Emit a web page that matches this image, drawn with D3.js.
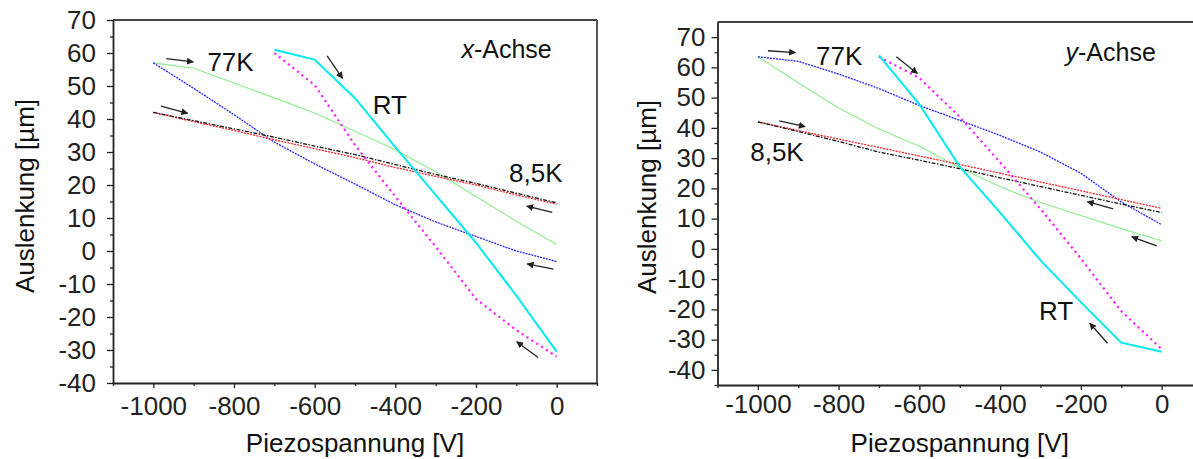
<!DOCTYPE html>
<html>
<head>
<meta charset="utf-8">
<script src="https://cdn.jsdelivr.net/npm/d3@7"></script>
<style>
    body { margin: 0; background: #fff; }
    text { font-family: "Liberation Sans", Arial, Helvetica, sans-serif; }
</style>
</head>
<body>
<div id="chart"></div>
<script>
// piezo voltages [V]
const voltFull = [-1000, -900, -800, -700, -600, -500, -400, -300, -200, -100, 0];
const voltRT = [-700, -600, -500, -400, -300, -200, -100, 0];

// x-Achse, deflection [µm]
const xBlue77 = [57, 49.3, 41.3, 33, 26.4, 20.3, 14, 8.8, 4.4, 0, -3.2];
const xGreen77 = [57, 55.4, 50.9, 46.4, 41.8, 36.3, 30.7, 24, 16.5, 9, 2];
const xBlack85 = [42, 39.5, 37, 34.5, 31.8, 29.2, 26.2, 23.2, 20.5, 17.5, 14.6];
const xRed85 = [42, 39.2, 36.5, 33.7, 31, 28.3, 25.3, 22.6, 20, 17, 14.2];
const xCyanRT = [61, 58, 46.3, 31.5, 17, 2.5, -13.5, -30.5];
const xMagentaRT = [60, 50.3, 32.1, 16.5, 1.3, -14.5, -24, -32];

// y-Achse, deflection [µm]
const yBlue77 = [63.5, 62, 57.8, 53, 47.4, 42.5, 37.5, 32, 25, 15.5, 8];
const yGreen77 = [63.5, 54.9, 46.6, 39.6, 33.9, 26.8, 20.5, 15.3, 11, 6.7, 2.7];
const yBlack85 = [42, 38.8, 35.5, 32, 29.3, 26.5, 23.5, 20.6, 17.7, 14.8, 12];
const yRed85 = [42, 39.1, 36.3, 33.5, 30.7, 27.9, 25, 22.1, 19.2, 16.3, 13.4];
const yCyanRT = [64, 47.8, 27.2, 12, -3.8, -17.6, -31, -34];
const yMagentaRT = [63.5, 56.5, 43.6, 28.6, 13.2, -3.2, -20.6, -33.1];

// arrows: [fromV, fromVal, toV, toVal]
const xArrows = [[-968, 58.3, -901, 57.3], [-981, 43.9, -915, 41.7], [-569, 59.1, -531, 52.3],
    [-11, 11.7, -74, 13.6], [-8, -5.5, -73, -3.9], [-46, -32.3, -99, -27.5]];
const yArrows = [[-975, 65.5, -907, 64.9], [-947, 42.3, -883, 40.4], [-657, 63.5, -605, 58],
    [-120, 13.2, -184, 15.6], [-12, 1, -74, 4], [-134, -31.2, -178, -24.6]];

// text labels: [text, V, val]
const xLabels = [["77K", -866, 54.6], ["RT", -456, 41.4], ["8,5K", -118, 21]];
const yLabels = [["77K", -856, 60.8], ["RT", -304, -23.5], ["8,5K", -1019, 29.2]];

const xTicks = [-1000, -800, -600, -400, -200, 0];
const xMinor = [-1100, -900, -700, -500, -300, -100, 100];

const ctx = {
    w: 1193, h: 459,
    font: 26
};

const styles = {
    blue: {color: "#2222ff", width: 1.3, dash: "2,1"},
    green: {color: "#8cee8c", width: 1.1, dash: null},
    black: {color: "#111", width: 1.3, dash: "4,1.5,1.5,1.5"},
    red: {color: "#ff2020", width: 1.3, dash: "2,1.2"},
    cyan: {color: "#00eaf0", width: 2, dash: null},
    magenta: {color: "#ff22ff", width: 2.2, dash: "2.2,3.6"}
};

const svg = d3.select("#chart").append("svg")
    .attr("width", ctx.w)
    .attr("height", ctx.h);

svg.append("defs").append("marker")
    .attr("id", "head")
    .attr("viewBox", "0 0 10 10")
    .attr("refX", 9).attr("refY", 5)
    .attr("markerWidth", 7).attr("markerHeight", 7)
    .attr("markerUnits", "userSpaceOnUse")
    .attr("orient", "auto")
    .append("path")
    .attr("d", "M0,0 L10,5 L0,10 z")
    .attr("fill", "#222");

function drawPanel(p) {
    let x = d3.scaleLinear().domain([-1100, 100]).range(p.xRange);
    let y = d3.scaleLinear().domain(p.yDomain).range(p.yRange);
    let g = svg.append("g");

    // frame
    g.append("line")
        .attr("x1", p.xRange[0]).attr("x2", p.xRange[1])
        .attr("y1", p.yRange[1]).attr("y2", p.yRange[1])
        .attr("stroke", "#444").attr("stroke-width", 1.8);
    g.append("line")
        .attr("x1", p.xRange[1]).attr("x2", p.xRange[1])
        .attr("y1", p.yRange[0]).attr("y2", p.yRange[1])
        .attr("stroke", "#444").attr("stroke-width", 1.8);

    // axes
    let major = d3.range(-40, 71, 10);
    let minor = d3.range(p.yDomain[0] + (p.yDomain[0] % 10 === 0 ? 5 : 0), p.yDomain[1], 10)
        .filter(v => v % 10 !== 0);
    let yAx = g.append("g").attr("transform", "translate(" + p.xRange[0] + ",0)");
    yAx.call(d3.axisLeft(y).tickValues(major).tickSize(6).tickSizeOuter(0)
        .tickPadding(p.yPad).tickFormat(d => String(d)));
    yAx.append("g").call(d3.axisLeft(y).tickValues(minor).tickSize(3).tickFormat(""))
        .select(".domain").remove();

    let xAx = g.append("g").attr("transform", "translate(0," + p.yRange[0] + ")");
    xAx.call(d3.axisBottom(x).tickValues(xTicks).tickSize(5).tickSizeOuter(0)
        .tickPadding(p.xPad).tickFormat(d => String(d)));
    xAx.append("g").call(d3.axisBottom(x).tickValues(xMinor).tickSize(3).tickFormat(""))
        .select(".domain").remove();

    g.selectAll(".domain").attr("stroke", "#222").attr("stroke-width", 1.8);
    g.selectAll(".tick line").attr("stroke", "#222").attr("stroke-width", 1.3);
    g.selectAll(".tick text")
        .attr("fill", "#222")
        .style("font-size", ctx.font + "px")
        .style("font-family", "'Liberation Sans', Arial, sans-serif");

    // axis titles
    g.append("text")
        .attr("x", (p.xRange[0] + p.xRange[1]) / 2)
        .attr("y", 452)
        .attr("text-anchor", "middle")
        .style("font-size", ctx.font + "px")
        .attr("fill", "#111")
        .text("Piezospannung [V]");
    g.append("text")
        .attr("transform", "translate(" + p.yTitleX + "," + p.yTitleY + ") rotate(-90)")
        .attr("text-anchor", "middle")
        .style("font-size", ctx.font + "px")
        .attr("fill", "#111")
        .text("Auslenkung [µm]");

    // curves
    let line = d3.line().x(d => x(d[0])).y(d => y(d[1]));
    p.series.forEach(s => {
        let st = styles[s.style];
        g.append("path")
            .datum(d3.zip(s.volt, s.values))
            .attr("fill", "none")
            .attr("stroke", st.color)
            .attr("stroke-width", st.width)
            .attr("stroke-dasharray", st.dash)
            .attr("d", line);
    });

    // arrows
    g.selectAll(".arrow")
        .data(p.arrows)
        .enter()
        .append("line")
        .attr("x1", d => x(d[0])).attr("y1", d => y(d[1]))
        .attr("x2", d => x(d[2])).attr("y2", d => y(d[3]))
        .attr("stroke", "#222")
        .attr("stroke-width", 1.3)
        .attr("marker-end", "url(#head)");

    // labels
    g.selectAll(".lbl")
        .data(p.labels)
        .enter()
        .append("text")
        .attr("x", d => x(d[1]))
        .attr("y", d => y(d[2]))
        .style("font-size", ctx.font + "px")
        .attr("fill", "#111")
        .text(d => d[0]);

    // axis name
    let t = g.append("text")
        .attr("x", x(p.axisName[1]))
        .attr("y", y(p.axisName[2]))
        .style("font-size", "25px")
        .attr("fill", "#111");
    t.append("tspan").style("font-style", "italic").text(p.axisName[0]);
    t.append("tspan").text("-Achse");
}

drawPanel({
    xRange: [113, 597], yRange: [383, 20], yDomain: [-40, 70],
    yPad: 11, xPad: 8.5, yTitleX: 34, yTitleY: 196,
    series: [
        {volt: voltFull, values: xGreen77, style: "green"},
        {volt: voltFull, values: xBlue77, style: "blue"},
        {volt: voltFull, values: xRed85, style: "red"},
        {volt: voltFull, values: xBlack85, style: "black"},
        {volt: voltRT, values: xMagentaRT, style: "magenta"},
        {volt: voltRT, values: xCyanRT, style: "cyan"}
    ],
    arrows: xArrows, labels: xLabels, axisName: ["x", -236, 58.4]
});

drawPanel({
    xRange: [717.5, 1202], yRange: [385, 22], yDomain: [-45, 75],
    yPad: 6, xPad: 4.5, yTitleX: 656, yTitleY: 197,
    series: [
        {volt: voltFull, values: yGreen77, style: "green"},
        {volt: voltFull, values: yBlue77, style: "blue"},
        {volt: voltFull, values: yRed85, style: "red"},
        {volt: voltFull, values: yBlack85, style: "black"},
        {volt: voltRT, values: yMagentaRT, style: "magenta"},
        {volt: voltRT, values: yCyanRT, style: "cyan"}
    ],
    arrows: yArrows, labels: yLabels, axisName: ["y", -238, 62.1]
});
</script>
</body>
</html>
